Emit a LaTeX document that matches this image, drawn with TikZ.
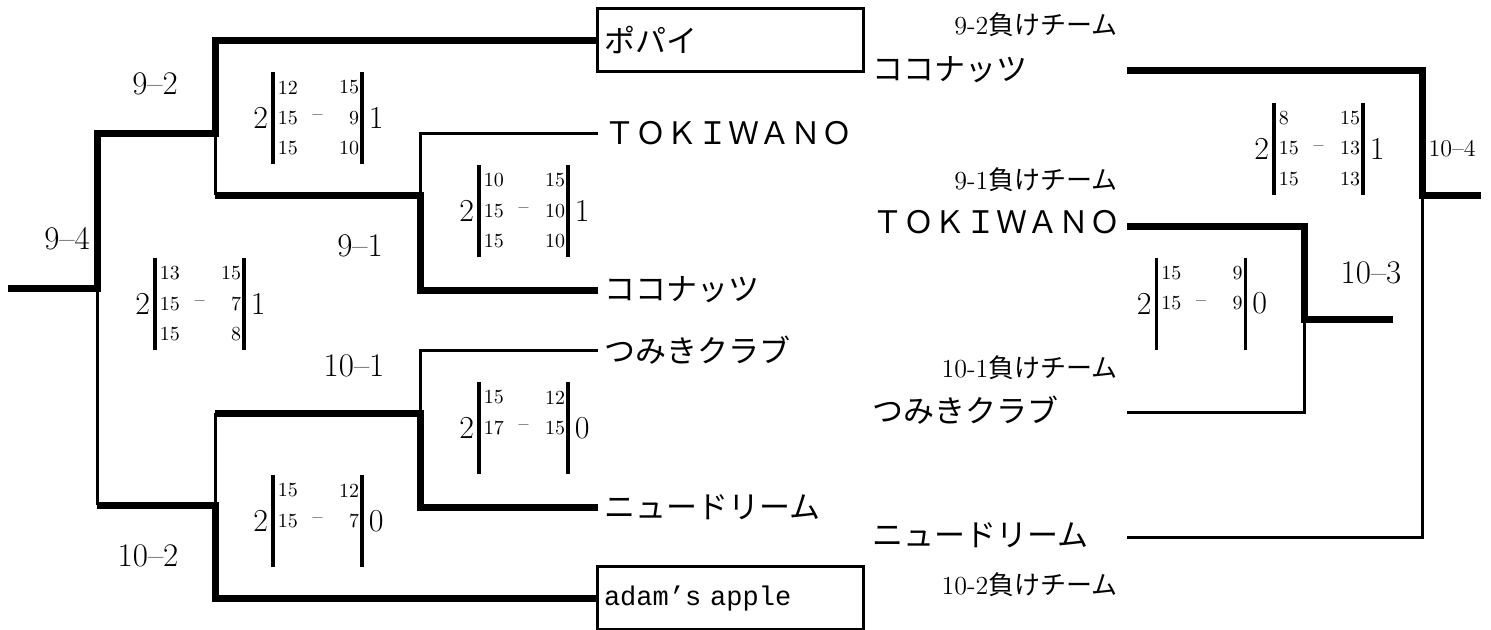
\documentclass[tikz,border=0pt]{standalone}
\usepackage{fontspec}
\newfontfamily\jp{Noto Sans CJK JP}
\newfontfamily\mono{Liberation Mono}
\usetikzlibrary{positioning,calc}

\begin{document}
\begin{tikzpicture}
	[x=0.5pt,y=-0.5pt,
	win/.style={line width=3.5pt},
	lose/.style={line width=1.5pt},
	bar/.style={line width=1.7pt},
	tm/.style={inner xsep=3pt,inner ysep=0pt,font=\jp\fontsize{15.5}{18}\selectfont},
	tbox/.style={draw,line width=1.5pt,minimum width=133pt,minimum height=31.5pt,text width=126pt,align=left,inner xsep=3pt},
	rnd/.style={font=\fontsize{16.5}{18}\selectfont},
	lost/.style={anchor=east,inner sep=0pt,font=\fontsize{13}{15}\selectfont},
	big/.style={inner sep=0pt,font=\fontsize{16}{18}\selectfont},
	gm/.style={inner sep=0pt,font=\fontsize{10}{12}\selectfont}]
	\useasboundingbox (0,0) rectangle (1491,629);
	%%%%% TEAMS (FIRST ROUND)
	\node[tm,tbox] (popai) at (730,40) {ポパイ};
	\node[tm,anchor=west] (toki) at (598,133) {ＴＯＫＩＷＡＮＯ};
	\node[tm,anchor=west] (coco) at (598,290) {ココナッツ};
	\node[tm,anchor=west] (tsumi) at (598,350) {つみきクラブ};
	\node[tm,anchor=west] (ndream) at (598,507) {ニュードリーム};
	\node[tbox,font=\mono\fontsize{13.5}{15}\selectfont] (adam) at (730,598) {adam’s apple};
	%%%%% TEAMS (LOSERS)
	\node[tm,anchor=west] (coco2) at (866,70) {ココナッツ};
	\node[tm,anchor=west] (toki2) at (866,222) {ＴＯＫＩＷＡＮＯ};
	\node[tm,anchor=west] (tsumi2) at (866,410) {つみきクラブ};
	\node[tm,anchor=west] (ndream2) at (866,535) {ニュードリーム};
	\node[lost] (lost92) at (1118,25) {9-2{\jp 負けチーム}};
	\node[lost] (lost91) at (1118,180) {9-1{\jp 負けチーム}};
	\node[lost] (lost101) at (1118,368) {10-1{\jp 負けチーム}};
	\node[lost] (lost102) at (1118,585) {10-2{\jp 負けチーム}};
	%%%%% LEFT BRACKET
	\coordinate (root) at (8,288);
	\coordinate (j94) at (97,288);
	\coordinate (j92) at (215,133);
	\coordinate (j91) at (420,195);
	\coordinate (j101) at (420,413);
	\coordinate (j102) at (215,505);
	\draw[win] (root) -- (j94) |- (j92) |- (popai.west);
	\draw[lose] (j94) -- (j94 |- j102);
	\draw[win] (j94 |- j102) -- (j102) |- (adam.west);
	\draw[lose] (j92) -- (j92 |- j91);
	\draw[win] (j92 |- j91) -- (j91) |- (coco.west);
	\draw[lose] (j91) |- (toki.west);
	\draw[lose] (j102) -- (j102 |- j101);
	\draw[win] (j102 |- j101) -- (j101) |- (ndream.west);
	\draw[lose] (j101) |- (tsumi.west);
	%%%%% RIGHT BRACKET
	\coordinate (c1) at (1127,70);
	\coordinate (c2) at (1127,226);
	\coordinate (c3) at (1127,412);
	\coordinate (c4) at (1127,537);
	\coordinate (k104) at (1422,195);
	\coordinate (k103) at (1304,319);
	\coordinate (e104) at (1481,195);
	\coordinate (e103) at (1393,319);
	\draw[win] (c1) -| (k104) -- (e104);
	\draw[lose] (k104) |- (c4);
	\draw[win] (c2) -| (k103) -- (e103);
	\draw[lose] (k103) |- (c3);
	%%%%% MATCH NUMBERS
	\node[rnd] (r92) at (155,84) {9--2};
	\node[rnd] (r94) at (67,239) {9--4};
	\node[rnd] (r91) at (360,246) {9--1};
	\node[rnd] (r101) at (354,366) {10--1};
	\node[rnd] (r102) at (148,556) {10--2};
	\node[rnd] (r103) at (1371,273) {10--3};
	\node[rnd,font=\fontsize{12}{14}\selectfont] (r104) at (1452,149) {10--4};
	%%%%% SCORES
	\foreach \n/\cx/\cy/\w/\l/\g in {s92/317.5/118/2/1/{12/15,15/9,15/10},
		s94/199.5/304/2/1/{13/15,15/7,15/8},
		s91/523.5/211/2/1/{10/15,15/10,15/10},
		s101/523.5/428/2/0/{15/12,17/15},
		s102/317.5/521/2/0/{15/12,15/7},
		s104/1318.5/148.5/2/1/{8/15,15/13,15/13},
		s103/1201/303.5/2/0/{15/9,15/9}}
	{
	\coordinate (\n) at (\cx,\cy);
	\draw[bar] ([shift={(-44.5,-46)}]\n) -- ([shift={(-44.5,46)}]\n);
	\draw[bar] ([shift={(44.5,-46)}]\n) -- ([shift={(44.5,46)}]\n);
	\node[big,anchor=east] (\n-w) at ([shift={(-49,0)}]\n) {\w};
	\node[big,anchor=west] (\n-l) at ([shift={(51,0)}]\n) {\l};
	\node[gm] (\n-d) at (\n) {--};
	\foreach \a/\b [count=\k] in \g
	{
	\node[gm,anchor=west] (\n-a\k) at ([shift={(-40,{(\k-2)*30.5})}]\n) {\a};
	\node[gm,anchor=east] (\n-b\k) at ([shift={(42,{(\k-2)*30.5})}]\n) {\b};
	};
	};
\end{tikzpicture}
\end{document}
